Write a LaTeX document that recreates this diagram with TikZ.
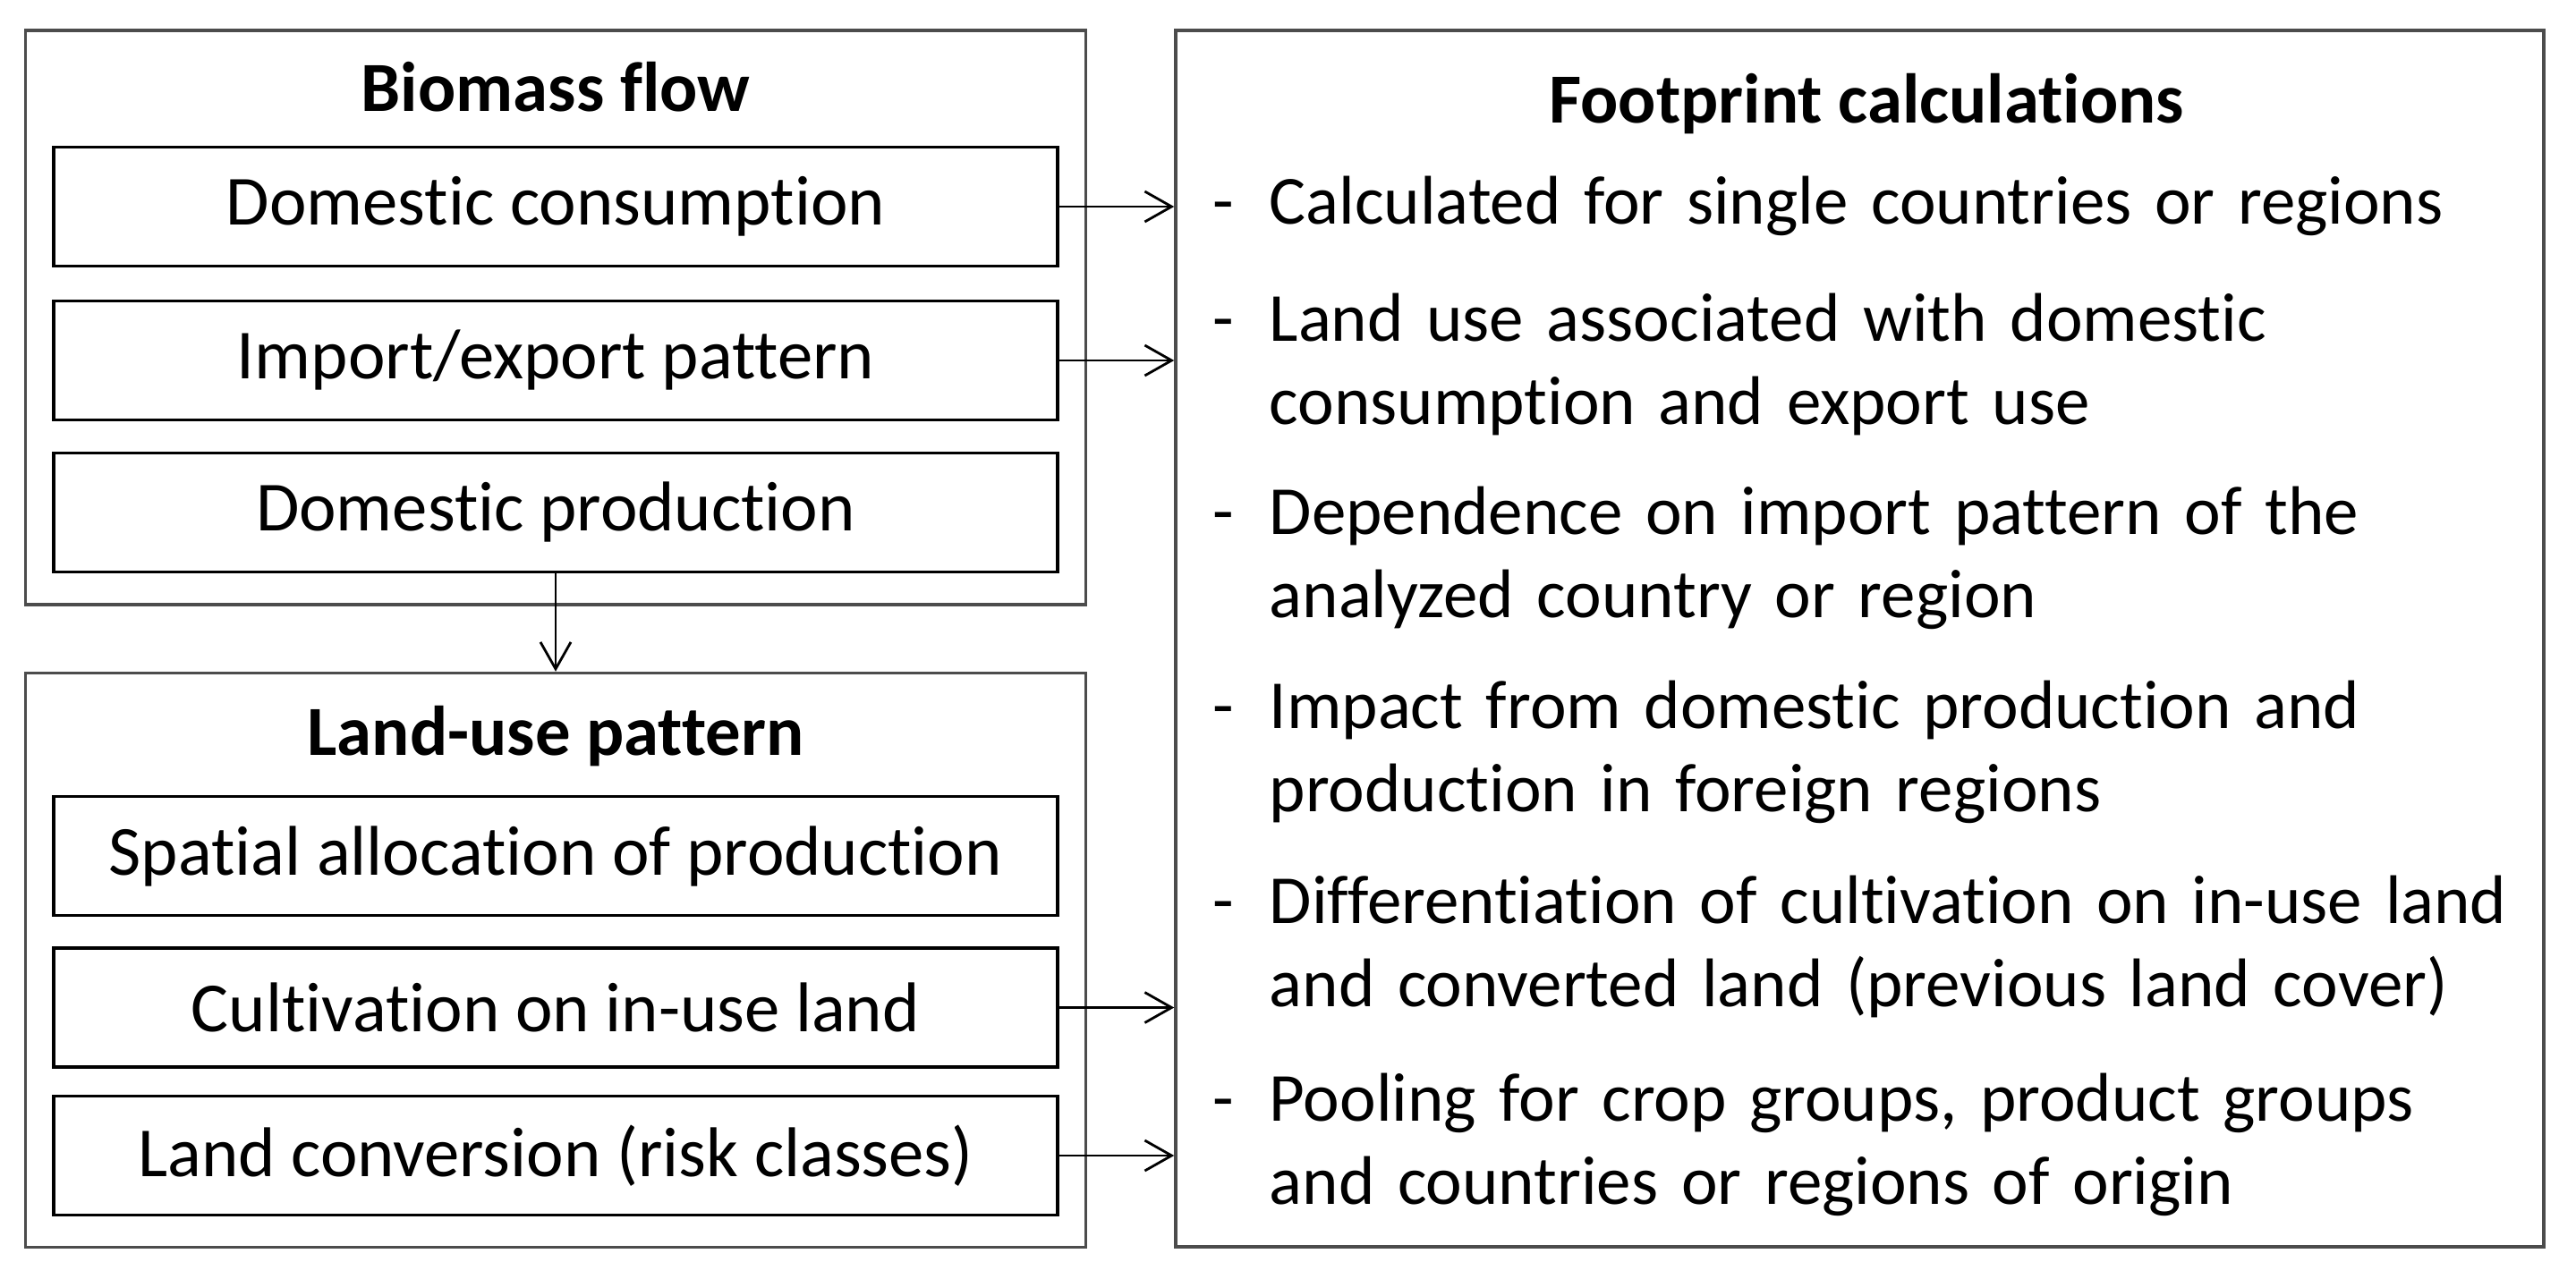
\documentclass[tikz,border=0pt]{standalone}
\usepackage{fontspec}
\setmainfont[Ligatures = NoCommon]{Carlito}
\usetikzlibrary{arrows.meta}
\begin{document}
\begin{tikzpicture}[
  outerbox/.style = {draw = black!70, line width = 1pt, minimum width = 11.85cm, minimum height = 6.42cm},
  flowbox/.style = {draw, line width = 1pt, minimum width = 11.22cm, minimum height = 1.33cm, font = \fontsize{22.4}{26.7}\selectfont},
  heading/.style = {anchor = base, font = \fontsize{22.4}{26.7}\selectfont\bfseries},
  dashmark/.style = {anchor = base west, inner sep = 0pt, font = \fontsize{21.9}{26.7}\selectfont},
  bullet/.style = {anchor = base west, text width = 14.3cm, align = left, inner sep = 0pt, font = \fontsize{21.9}{26.7}\selectfont},
  link/.style = {-{Straight Barb[length = 3mm, width = 3.4mm]}, line width = 0.8pt}
]
\useasboundingbox (0,0) rectangle (28.79,-14.29);
% left column: biomass flow
\node [outerbox] (biomass) at (6.21,-3.55) {};
\node [heading] (biomasstitle) at (6.21,-1.24) {Biomass flow};
\node [flowbox] (cons) at (6.21,-2.31) {Domestic consumption};
\node [flowbox] (imex) at (6.21,-4.03) {Import/export pattern};
\node [flowbox] (prod) at (6.21,-5.73) {Domestic production};
% left column: land-use pattern
\node [outerbox] (landuse) at (6.21,-10.735) {};
\node [heading] (landusetitle) at (6.21,-8.44) {Land-use pattern};
\node [flowbox] (spatial) at (6.21,-9.57) {Spatial allocation of production};
\node [flowbox] (cultiv) at (6.21,-11.265) {Cultivation on in-use land};
\node [flowbox] (conv) at (6.21,-12.92) {Land conversion (risk classes)};
% right column: footprint calculations
\node [draw = black!70, line width = 1pt, minimum width = 15.29cm, minimum height = 13.6cm] (fp) at (20.785,-7.14) {};
\node [heading] (fptitle) at (20.86,-1.37) {Footprint calculations};
\node [dashmark] (d1) at (13.55,-2.50) {-};
\node [bullet] (b1) at (14.18,-2.50) {Calculated for single countries or regions};
\node [dashmark] (d2) at (13.55,-3.81) {-};
\node [bullet] (b2) at (14.18,-3.81) {Land use associated with domestic\\consumption and export use};
\node [dashmark] (d3) at (13.55,-5.97) {-};
\node [bullet] (b3) at (14.18,-5.97) {Dependence on import pattern of the\\analyzed country or region};
\node [dashmark] (d4) at (13.55,-8.14) {-};
\node [bullet] (b4) at (14.18,-8.14) {Impact from domestic production and\\production in foreign regions};
\node [dashmark] (d5) at (13.55,-10.32) {-};
\node [bullet] (b5) at (14.18,-10.32) {Differentiation of cultivation on in-use land\\and converted land (previous land cover)};
\node [dashmark] (d6) at (13.55,-12.53) {-};
\node [bullet] (b6) at (14.18,-12.53) {Pooling for crop groups, product groups\\and countries or regions of origin};
% arrows
\draw [link] (prod.south) -- (landuse.north);
\draw [link] (cons.east) -- (cons.east -| fp.west);
\draw [link] (imex.east) -- (imex.east -| fp.west);
\draw [link] (cultiv.east) -- (cultiv.east -| fp.west);
\draw [link] (conv.east) -- (conv.east -| fp.west);
\end{tikzpicture}
\end{document}
